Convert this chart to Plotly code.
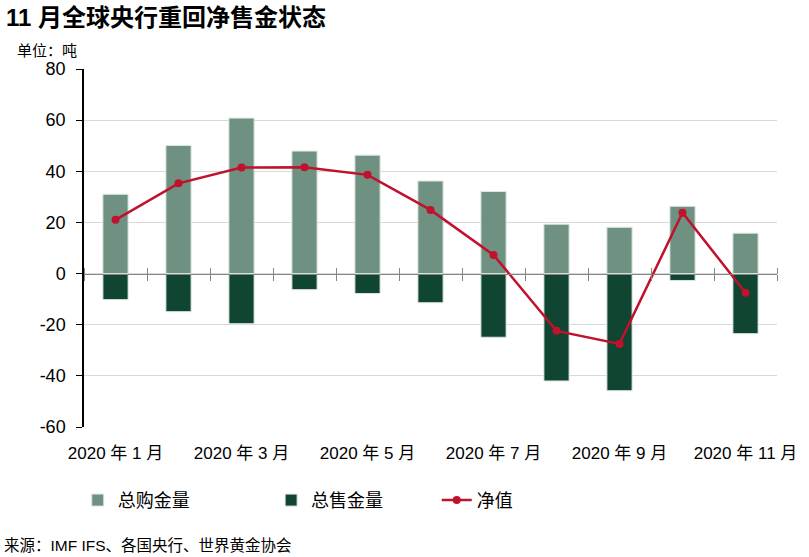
import plotly.graph_objects as go

# 数据（吨）
months = ["2020 年 1 月", "2020 年 2 月", "2020 年 3 月", "2020 年 4 月", "2020 年 5 月", "2020 年 6 月",
          "2020 年 7 月", "2020 年 8 月", "2020 年 9 月", "2020 年 10 月", "2020 年 11 月"]
gross_buy = [31.0, 50.1, 60.8, 47.9, 46.3, 36.2, 32.1, 19.3, 18.1, 26.3, 15.8]
gross_sell = [-10.2, -14.9, -19.6, -6.3, -7.8, -11.4, -24.9, -42.0, -45.8, -2.7, -23.5]
net = [21.0, 35.3, 41.5, 41.6, 38.6, 24.9, 7.3, -22.4, -27.5, 23.8, -7.5]
y_ticks = [-60, -40, -20, 0, 20, 40, 60, 80]

y_min, y_max = -60, 80
zero_pos = (0 - y_min) / (y_max - y_min)

cjk = "Liberation Sans, Noto Sans CJK SC"

fig = go.Figure()
fig.add_bar(x=months, y=gross_buy, name="总购金量", legend="legend",
            marker=dict(color="#6f9181", line=dict(color="#dde6e1", width=1)))
fig.add_bar(x=months, y=gross_sell, name="总售金量", legend="legend2",
            marker=dict(color="#0f4531", line=dict(color="#dde6e1", width=1)))
fig.add_scatter(x=months, y=net, name="净值", mode="lines+markers", legend="legend3",
                line=dict(color="#c0112d", width=2.5),
                marker=dict(color="#c0112d", size=8))

# 零线上的刻度（上下两个方向）
for ax in ["x2", "x3"]:
    fig.add_scatter(x=months, y=[None] * len(months), xaxis=ax, showlegend=False,
                    hoverinfo="skip")

legend_style = dict(y=-0.205, xanchor="left", yanchor="middle", orientation="h",
                    font=dict(family=cjk, size=18), bgcolor="rgba(0,0,0,0)")

fig.update_layout(
    width=809, height=557,
    margin=dict(l=84, r=21, t=69, b=130),
    plot_bgcolor="white", paper_bgcolor="white",
    barmode="relative", bargap=0.6,
    font=dict(family=cjk, color="#000000"),
    xaxis=dict(type="category", range=[-0.5, 10.5], showgrid=False, showline=False,
               zeroline=False, ticks="", tickvals=months[::2], ticktext=months[::2],
               tickfont=dict(family=cjk, size=17), ticklabelstandoff=14),
    xaxis2=dict(type="category", overlaying="x", anchor="free", position=zero_pos,
                side="bottom", range=[-0.5, 10.5], showgrid=False, zeroline=False,
                showline=True, linecolor="#858585", linewidth=1,
                tickson="boundaries", ticks="outside", ticklen=6, tickcolor="#858585",
                showticklabels=False),
    xaxis3=dict(type="category", overlaying="x", anchor="free", position=zero_pos,
                side="top", range=[-0.5, 10.5], showgrid=False, zeroline=False,
                showline=False, tickson="boundaries", ticks="outside", ticklen=6,
                tickcolor="#858585", showticklabels=False),
    yaxis=dict(range=[y_min, y_max], tickvals=y_ticks, ticktext=[str(v) for v in y_ticks],
               showgrid=True, gridcolor="#d9d9d9",
               gridwidth=1, zeroline=False, showline=True, linecolor="#000000", linewidth=1.5,
               ticks="outside", ticklen=6, tickcolor="#000000",
               tickfont=dict(family="Liberation Sans", size=18), ticklabelstandoff=7),
    legend=dict(x=-0.009, **legend_style),
    legend2=dict(x=0.27, **legend_style),
    legend3=dict(x=0.509, **legend_style),
    showlegend=True,
)

fig.add_annotation(text="<b>11 月全球央行重回净售金状态</b>", xref="paper", yref="paper",
                   x=-0.116, y=1.145, xanchor="left", yanchor="middle", showarrow=False,
                   font=dict(size=24, family=cjk))
fig.add_annotation(text="单位：吨", xref="paper", yref="paper",
                   x=-0.1, y=1.052, xanchor="left", yanchor="middle", showarrow=False,
                   font=dict(size=15, family=cjk))
fig.add_annotation(text="来源：IMF IFS、各国央行、世界黄金协会", xref="paper", yref="paper",
                   x=-0.118, y=-0.33, xanchor="left", yanchor="middle", showarrow=False,
                   font=dict(size=15.5, family=cjk))

fig.write_html("out.html", config={"displayModeBar": False},
               post_script="document.body.style.margin='0px';")
